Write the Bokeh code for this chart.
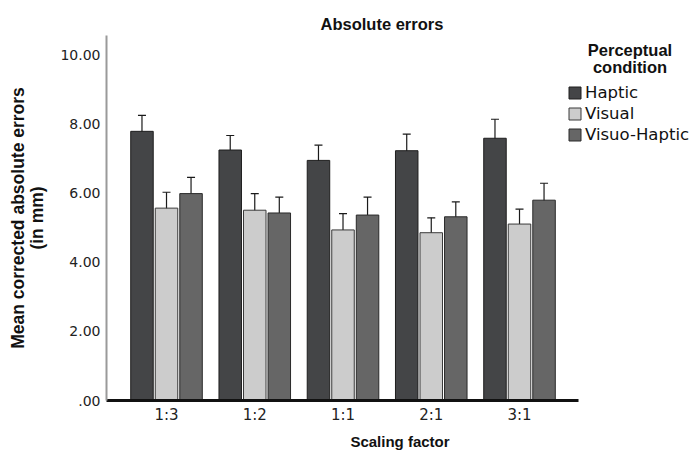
from bokeh.plotting import figure
from bokeh.models import (ColumnDataSource, Whisker, TeeHead, Legend, LegendItem,
                          FixedTicker, Range1d, Label, Title)
from bokeh.embed import file_html
from bokeh.resources import INLINE

categories = ["1:3", "1:2", "1:1", "2:1", "3:1"]
conditions = ["Haptic", "Visual", "Visuo-Haptic"]
haptic_mean = [7.78, 7.24, 6.94, 7.22, 7.58]
haptic_lo = [7.34, 6.84, 6.51, 6.77, 7.07]
haptic_hi = [8.24, 7.66, 7.38, 7.70, 8.13]
visual_mean = [5.56, 5.50, 4.93, 4.85, 5.10]
visual_lo = [5.08, 5.03, 4.50, 4.45, 4.70]
visual_hi = [6.02, 5.98, 5.40, 5.28, 5.53]
vh_mean = [5.98, 5.42, 5.36, 5.31, 5.79]
vh_lo = [5.50, 4.94, 4.86, 4.89, 5.34]
vh_hi = [6.45, 5.88, 5.88, 5.74, 6.28]
y_ticks = [0, 2, 4, 6, 8, 10]
y_tick_labels = [".00", "2.00", "4.00", "6.00", "8.00", "10.00"]

colors = ["#444547", "#cccccc", "#666666"]
outlines = ["#1e1e1e", "#3a3a3a", "#2a2a2a"]
offsets = [-0.278, 0.0, 0.278]
series = [(haptic_mean, haptic_lo, haptic_hi),
          (visual_mean, visual_lo, visual_hi),
          (vh_mean, vh_lo, vh_hi)]

FONT = "DejaVu Sans"
BFONT = "Liberation Sans"
X0, X1 = -0.68, 4.67          # extent of the drawn category axis
PX_PER_CAT = 88.25
FRAME_W = 587
X_END = X0 + FRAME_W / PX_PER_CAT
Y_END = 10.55

p = figure(frame_width=FRAME_W, frame_height=365, output_backend="svg",
           toolbar_location=None,
           x_range=Range1d(X0, X_END), y_range=Range1d(0, Y_END),
           min_border_left=106, min_border_right=0, min_border_top=35,
           min_border_bottom=50)
p.title = Title(text="Absolute errors", align="left", offset=214,
                text_font=BFONT, text_font_size="16.5px", text_font_style="bold",
                text_color="#111111", standoff=6)
p.outline_line_color = None
p.grid.visible = False
p.background_fill_color = "white"

legend_items = []
for i, (m, lo, hi) in enumerate(series):
    xs = [k + offsets[i] for k in range(len(categories))]
    src = ColumnDataSource(dict(x=xs, top=m, lo=lo, hi=hi))
    r = p.vbar(x="x", top="top", width=0.255, source=src, fill_color=colors[i],
               line_color=outlines[i], line_width=1)
    legend_items.append(LegendItem(label=conditions[i], renderers=[r]))
    w = Whisker(base="x", upper="hi", lower="lo", source=src,
                line_color="#1a1a1a", line_width=1.2,
                upper_head=TeeHead(size=8, line_color="#1a1a1a", line_width=1.2),
                lower_head=TeeHead(size=8, line_color="#1a1a1a", line_width=1.2))
    p.add_layout(w)

# axes
p.xaxis.ticker = FixedTicker(ticks=list(range(len(categories))))
p.xaxis.major_label_overrides = {k: c for k, c in enumerate(categories)}
p.xaxis.bounds = (X0, X1)
p.yaxis.ticker = FixedTicker(ticks=y_ticks)
p.yaxis.major_label_overrides = {t: l for t, l in zip(y_ticks, y_tick_labels)}
for ax in (p.xaxis, p.yaxis):
    ax.major_tick_line_color = None
    ax.minor_tick_line_color = None
    ax.major_tick_out = 0
    ax.major_tick_in = 0
    ax.minor_tick_out = 0
    ax.minor_tick_in = 0
    ax.major_label_text_font = FONT
    ax.major_label_text_color = "#222222"
    ax.axis_label_text_font = BFONT
    ax.axis_label_text_font_style = "bold"
    ax.axis_label_text_color = "#111111"
p.xaxis.major_label_text_font_size = "15px"
p.yaxis.major_label_text_font_size = "14px"
p.xaxis.axis_label_text_font_size = "15px"
p.yaxis.axis_label_text_font_size = "17.5px"
p.yaxis.axis_label_text_line_height = 0.95
p.xaxis.axis_line_color = "#111111"
p.xaxis.axis_line_width = 3
p.yaxis.axis_line_color = "#9a9a9a"
p.yaxis.axis_line_width = 2
p.xaxis.major_label_standoff = 5
p.xaxis.axis_label = "Scaling factor"
p.xaxis.axis_label_standoff = 6
p.yaxis.major_label_standoff = 6
p.yaxis.axis_label = "Mean corrected absolute errors\n(in mm)"
p.yaxis.axis_label_standoff = 10

legend = Legend(items=legend_items, location=(461, 256), orientation="vertical",
                label_text_font=FONT, label_text_font_size="16.5px",
                label_text_color="#111111", glyph_width=15, glyph_height=15,
                label_height=18, spacing=2, label_standoff=3, padding=0,
                margin=0, border_line_color=None, background_fill_alpha=0)
p.add_layout(legend)

for txt, yy in (("Perceptual", 10.12), ("condition", 9.63)):
    p.add_layout(Label(x=5.252, y=yy, text=txt, text_align="center",
                       text_baseline="middle", text_font=BFONT,
                       text_font_size="16.5px", text_font_style="bold",
                       text_color="#111111"))

open("out.html", "w").write(file_html(p, INLINE))
